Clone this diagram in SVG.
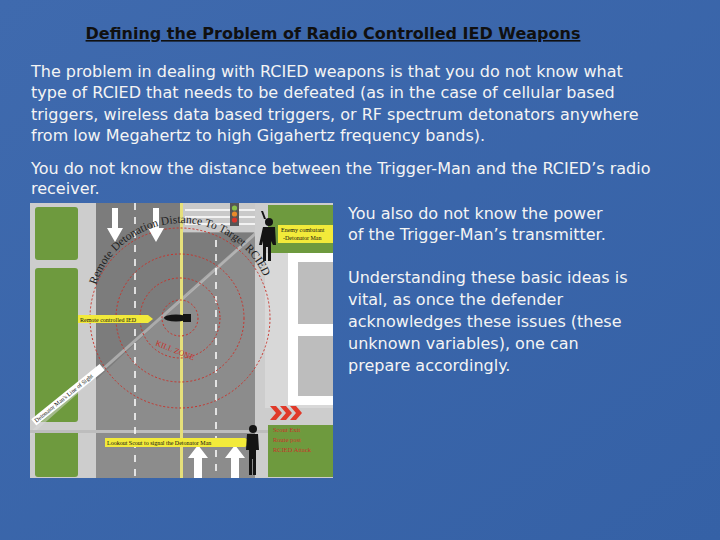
<svg xmlns="http://www.w3.org/2000/svg" width="720" height="540" viewBox="0 0 720 540">
<defs>
<linearGradient id="bg" x1="0" y1="0" x2="1" y2="1"><stop offset="0" stop-color="#3f6aae"/><stop offset="1" stop-color="#3561a6"/></linearGradient>
<path id="arc" d="M 96 285 A 90 90 0 0 1 266 282"/>
<style>
.t{font-family:"DejaVu Sans",sans-serif;font-size:16px;fill:#f4f4f4}
.lab{font-family:"Liberation Serif",serif;font-size:6px;fill:#111}
.red{stroke:#c9322a;stroke-width:1;fill:none;stroke-dasharray:2 2}
.dash{stroke:#fff;stroke-width:1.5;stroke-dasharray:7 7}
.g{fill:#6e9a3e}
.fig{fill:#141414}
</style>
</defs>
<rect width="720" height="540" fill="url(#bg)"/>
<text x="333" y="39" text-anchor="middle" class="t" style="font-weight:bold;text-decoration:underline;fill:#101010;font-size:16px">Defining the Problem of Radio Controlled IED Weapons</text>
<g class="t">
<text x="31" y="77">The problem in dealing with RCIED weapons is that you do not know what</text>
<text x="31" y="98">type of RCIED that needs to be defeated (as in the case of cellular based</text>
<text x="31" y="120">triggers, wireless data based triggers, or RF spectrum detonators anywhere</text>
<text x="31" y="141">from low Megahertz to high Gigahertz frequency bands).</text>
<text x="31" y="174">You do not know the distance between the Trigger-Man and the RCIED’s radio</text>
<text x="31" y="194">receiver.</text>
<text x="348" y="219">You also do not know the power</text>
<text x="348" y="240">of the Trigger-Man’s transmitter.</text>
<text x="348" y="283">Understanding these basic ideas is</text>
<text x="348" y="305">vital, as once the defender</text>
<text x="348" y="327">acknowledges these issues (these</text>
<text x="348" y="349">unknown variables), one can</text>
<text x="348" y="371">prepare accordingly.</text>
</g>
<g id="picture">
<rect x="30" y="203" width="303" height="275" fill="#cdcdcd"/>
<rect x="35" y="207" width="43" height="53" rx="3" class="g"/>
<rect x="35" y="268" width="43" height="154" rx="3" class="g"/>
<rect x="35" y="430" width="43" height="47" rx="3" class="g"/>
<rect x="96" y="203" width="159" height="275" fill="#8c8c8c"/>
<rect x="183" y="203" width="72" height="30" fill="#c9c9c9"/>
<g stroke="#fff" stroke-width="1.5"><line x1="185" y1="210" x2="255" y2="210"/><line x1="185" y1="217" x2="255" y2="217"/><line x1="185" y1="224" x2="255" y2="224"/></g>
<polygon points="96,203 183,203 183,232 255,232 96,380" fill="#6f6f6f" opacity="0.55"/>
<polygon points="30,432 255,232 255,236 30,436" fill="#dadada" opacity="0.5"/>
<rect x="30" y="430" width="303" height="3" fill="#bdbdbd"/>
<line x1="135" y1="203" x2="135" y2="478" class="dash"/>
<line x1="216" y1="240" x2="216" y2="478" class="dash"/>
<rect x="180" y="203" width="3" height="275" fill="#e6e07a"/>
<rect x="268" y="205" width="65" height="50" class="g"/>
<rect x="265" y="253" width="68" height="155" fill="#d8d8d8"/>
<rect x="288" y="253" width="45" height="152" fill="#fff"/>
<rect x="298" y="262" width="35" height="62" fill="#bdbdbd"/>
<rect x="298" y="336" width="35" height="60" fill="#bdbdbd"/>
<rect x="268" y="425" width="65" height="52" class="g"/>
<circle cx="180" cy="318" r="90" class="red"/>
<circle cx="180" cy="318" r="64" class="red"/>
<circle cx="180" cy="318" r="40" class="red"/>
<circle cx="180" cy="318" r="18" class="red"/>
<g fill="#fff">
<polygon points="112,208 118,208 118,228 123,228 115,242 107,228 112,228"/>
<polygon points="153,208 159,208 159,228 164,228 156,242 148,228 153,228"/>
<polygon points="194,478 202,478 202,458 208,458 198,445 188,458 194,458"/>
<polygon points="231,478 239,478 239,458 245,458 235,445 225,458 231,458"/>
</g>
<rect x="230" y="203" width="9" height="23" fill="#555"/>
<circle cx="234.5" cy="208" r="2.6" fill="#8ac04a"/><circle cx="234.5" cy="214" r="2.6" fill="#e88a2a"/><circle cx="234.5" cy="220" r="2.6" fill="#d8352a"/>
<text class="lab" style="font-size:11.5px;fill:#222"><textPath href="#arc">Remote Detonation Distance To Target RCIED</textPath></text>
<polygon points="78,315 148,315 153,319 148,323 78,323" fill="#f2ea3a"/>
<text x="80" y="321.5" class="lab">Remote controlled IED</text>
<polygon points="105,438 245,438 252,442 245,447 105,447" fill="#f2ea3a"/>
<text x="107" y="444.5" class="lab">Lookout Scout to signal the Detonator Man</text>
<rect x="278" y="225" width="55" height="18" fill="#f2ea3a"/>
<text x="281" y="232" class="lab">Enemy combatant</text>
<text x="283" y="240" class="lab">-Detonator Man</text>
<g transform="translate(35,424) rotate(-39)">
<rect x="0" y="-6" width="88" height="8" fill="#fff"/>
<text x="2" y="0" class="lab">Detonator Man's Line of Sight</text>
</g>
<text x="0" y="0" transform="translate(155,345) rotate(22)" class="lab" style="font-size:8px;fill:#c9322a">KILL ZONE</text>
<g class="fig">
<ellipse cx="176" cy="318" rx="12" ry="3.5"/>
<rect x="183" y="314" width="8" height="8"/>
<circle cx="269" cy="222" r="4"/>
<path d="M263 227 h12 l1 18 h-3 l-2 -4 v20 h-3 v-14 h-2 v14 h-3 v-20 l-1 4 h-3 z"/>
<path d="M264 219 l-3 -8 h2 l3 8 z"/>
<circle cx="253" cy="429" r="4"/>
<path d="M247 434 h11 l1 16 h-3 v25 h-3 v-16 h-1 v16 h-3 v-25 h-3 z"/>
</g>
<g fill="#e03a2a">
<polygon points="270,406 276,406 282,413 276,420 270,420 276,413"/>
<polygon points="280,406 286,406 292,413 286,420 280,420 286,413"/>
<polygon points="290,406 296,406 302,413 296,420 290,420 296,413"/>
</g>
<g class="lab" style="font-size:6.5px;fill:#c9322a"><text x="273" y="432">Scout Exit</text><text x="273" y="442">Route post</text><text x="273" y="452">RCIED Attack</text></g>
</g>
</svg>
